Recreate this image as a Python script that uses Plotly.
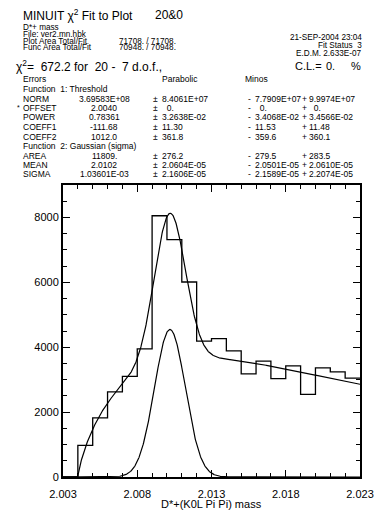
import numpy as np
import plotly.graph_objects as go

# ---- histogram: D*+ (K0L pi pi) mass, 20 bins of 0.001 from 2.003 to 2.023
bin_lo = 2.003
bin_width = 0.001
counts = [0, 975, 1825, 2625, 3100, 3948, 8052, 7314, 6010, 4185,
          4268, 3886, 3180, 3570, 3035, 3425, 2545, 3365, 3240, 3050]

# ---- fit parameters (threshold + gaussian)
NORM = 3.69583e8
OFFSET = 2.0040
POWER = 0.78361
COEFF1 = -111.68
COEFF2 = 1012.0
AREA = 11809.0
MEAN = 2.0102
SIGMA = 1.03601e-3

x_ticks = [2.003, 2.008, 2.013, 2.018, 2.023]
y_ticks = [0, 2000, 4000, 6000, 8000]
x_title = "D*+(K0L Pi Pi) mass"

# ---- header text
title_text = "MINUIT χ<sup>2</sup> Fit to Plot"
title_id = "20&0"
hist_name = "D*+ mass"
file_name = "File: ver2.mn.hbk"
date_text = "21-SEP-2004 23:04"
plot_area = ("Plot Area Total/Fit", "71708. / 71708.")
func_area = ("Func Area Total/Fit", "70948. / 70948.")
fit_status = "Fit Status  3"
edm_text = "E.D.M. 2.633E-07"
chi2_text = "χ<sup>2</sup>=  672.2 for  20 -  7 d.o.f.,"
cl_label = "C.L.="
cl_value = "0."
cl_unit = "%"

# parameter table: (name, value, parabolic, minos-, minos+); None => section header
param_rows = [
    ("Function  1: Threshold", None, None, None, None),
    ("NORM", "3.69583E+08", "8.4061E+07", "7.7909E+07", "9.9974E+07"),
    ("OFFSET", "2.0040", "  0.", "  0.", "  0."),
    ("POWER", "0.78361", "3.2638E-02", "3.4068E-02", "3.4566E-02"),
    ("COEFF1", "-111.68", "11.30", "11.53", "11.48"),
    ("COEFF2", "1012.0", "361.8", "359.6", "360.1"),
    ("Function  2: Gaussian (sigma)", None, None, None, None),
    ("AREA", "11809.", "276.2", "279.5", "283.5"),
    ("MEAN", "2.0102", "2.0604E-05", "2.0501E-05", "2.0610E-05"),
    ("SIGMA", "1.03601E-03", "2.1606E-05", "2.1589E-05", "2.2074E-05"),
]
fixed_params = {"OFFSET"}

# ---- fit curves (counts per bin)
xf = np.linspace(2.003, 2.023, 801)
dx = np.clip(xf - OFFSET, 0, None)
threshold = NORM * dx ** POWER * np.exp(COEFF1 * dx + COEFF2 * dx ** 2) * bin_width
gauss = AREA * bin_width / (SIGMA * np.sqrt(2 * np.pi)) * np.exp(-0.5 * ((xf - MEAN) / SIGMA) ** 2)
total = threshold + gauss

edges = [bin_lo + i * bin_width for i in range(len(counts) + 1)]
step_y = counts + [counts[-1]]

W, H = 386, 512
L, R, T, B = 63, 13, 185, 35
PW, PH = W - L - R, H - T - B


def px(x):
    return (x - L) / PW


def py(y):
    return (H - B - y) / PH


FONT = "Liberation Sans, Arial, Helvetica, sans-serif"

fig = go.Figure()
fig.add_trace(go.Scatter(x=edges, y=step_y, mode="lines", line=dict(shape="hv", color="black", width=1.3),
                         hoverinfo="skip"))
fig.add_trace(go.Scatter(x=xf, y=total, mode="lines", line=dict(color="black", width=1.2), hoverinfo="skip"))
fig.add_trace(go.Scatter(x=xf, y=gauss, mode="lines", line=dict(color="black", width=1.2), hoverinfo="skip"))

annos = []


def txt(x, y, s, size=8.5, anchor="left"):
    annos.append(dict(x=px(x), y=py(y), xref="paper", yref="paper", text=s, showarrow=False,
                      xanchor=anchor, yanchor="middle", font=dict(family=FONT, size=size, color="black"),
                      borderpad=0))


txt(20, 15, title_text, size=12)
txt(158, 15, title_id, size=12)

# run header
HS = 8.2
txt(20, 27.7, hist_name, size=HS)
txt(20, 34.3, file_name, size=HS)
txt(20, 41.0, plot_area[0], size=HS)
txt(120, 41.0, plot_area[1], size=HS)
txt(20, 47.7, func_area[0], size=HS)
txt(120, 47.7, func_area[1], size=HS)
txt(376, 37.3, date_text, anchor="right", size=HS)
txt(376, 45.0, fit_status, anchor="right", size=HS)
txt(376, 53.0, edm_text, anchor="right", size=HS)

txt(13, 66, chi2_text, size=12)
txt(304, 66, cl_label, size=11)
txt(336, 66, cl_value, size=11)
txt(363, 66, cl_unit, size=11)

txt(20, 79, "Errors")
txt(165, 79, "Parabolic")
txt(252, 79, "Minos")

row_y = 89
for name, val, par, mneg, mpos in param_rows:
    if val is None:
        txt(20, row_y, name)
    else:
        if name in fixed_params:
            txt(14, row_y, "*", size=7)
        txt(20, row_y, name)
        txt(106, row_y, val, anchor="center")
        txt(156, row_y, "±")
        txt(165, row_y, par)
        txt(255, row_y, "-")
        txt(262, row_y, mneg)
        txt(311, row_y, "+")
        txt(319, row_y, mpos)
    row_y += 9.5

# x-axis title
txt((L + W - R) / 2, 504, x_title, size=11, anchor="center")

axis_common = dict(showline=True, linecolor="black", linewidth=2, mirror="allticks", ticks="inside",
                   tickcolor="black", tickwidth=1.2, ticklen=7, showgrid=False, zeroline=False,
                   ticklabeloverflow="allow",
                   tickfont=dict(family=FONT, size=11, color="black"))

fig.update_layout(
    width=W, height=H,
    margin=dict(l=L, r=R, t=T, b=B),
    paper_bgcolor="white", plot_bgcolor="white",
    showlegend=False,
    annotations=annos,
    xaxis=dict(range=[2.003, 2.023], tickvals=x_ticks, ticktext=[f"{v:.3f}" for v in x_ticks],
               ticklabelstandoff=6,
               minor=dict(dtick=bin_width, tick0=2.003, ticks="inside", ticklen=4, tickcolor="black", tickwidth=1.2),
               **axis_common),
    yaxis=dict(range=[0, 9000], tickvals=y_ticks,
               minor=dict(dtick=500, tick0=0, ticks="inside", ticklen=4, tickcolor="black", tickwidth=1.2),
               **axis_common),
)

fig.write_html("out.html")
